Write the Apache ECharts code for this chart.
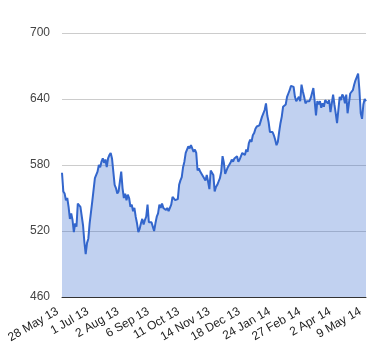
<!DOCTYPE html>
<html><head><meta charset="utf-8">
<script src="https://cdn.jsdelivr.net/npm/echarts@6/dist/echarts.min.js"></script>
<style>html,body{margin:0;padding:0;background:#fff}#c{width:380px;height:360px}</style>
</head><body><div id="c"></div>
<script>
const tickLabels = ['28 May 13','1 Jul 13','2 Aug 13','6 Sep 13','11 Oct 13','14 Nov 13','18 Dec 13','24 Jan 14','27 Feb 14','2 Apr 14','9 May 14'];
const pricesA = [573,556,554,548,550,542,531,536,530,519,527,524,545,545,542,541,525,510,499,509,513,527,528,547,548,568,568,574,580,578,583,586,582,585,578,586,589,591,586,574,562,559,554,556,557,574,559,550,554,548,553,550,542,544,538,541,533,527,519,522,527,531,526,530,533,544,528,527,528,524,520,527,533,536,544,541,545,541,542];
const pricesB = [539,541,538,539,544,551,550,548,547,549,562,566,569,578,583,591,594,597,595,598,597,592,594,591,575,577,574,572,571,568,566,571,565,558,575,574,571,556,560,562,565,568,574,588,582,572,575,578,580,582,585,583,586,585,588,583,585,588,591,592,589,594,592,600,603,601,607,609,613,615,615,616,616,624,627,630];
const pricesC = [636,625,619,610,611,610,607,603,598,601,610,618,624,633,632,635,642,645,648,652,653,651,642,638,639,642,638,653,647,642,636,638,639,638,641,642,650,638,625,638,635,638,632,636,633,639,638,636,639,628,636,644,635,627,618,630,642,639,644,642,636,644,627,628,645,645,648,653,657,660,663,648,627,622,635,640,638];
const labelEvery = 23;
const yMin = 460, yMax = 700, yStep = 60;

const values = pricesA.concat(pricesB, pricesC);
const cats = values.map((v, i) => i);
const chart = echarts.init(document.getElementById('c'), null, {renderer: 'canvas'});
chart.setOption({
  animation: false,
  grid: {left: 62, right: 14, top: 33, bottom: 63},
  xAxis: {
    type: 'category', data: cats, boundaryGap: false,
    axisLine: {lineStyle: {color: '#333', width: 1}},
    axisTick: {show: false},
    axisLabel: {
      interval: labelEvery - 1, rotate: 30, color: '#222',
      fontFamily: 'Liberation Sans, Arial', fontSize: 12, margin: 11,
      padding: [0, 5, 0, 0],
      formatter: (v, i) => (i % labelEvery === 0 && tickLabels[i / labelEvery]) ? tickLabels[i / labelEvery] : ''
    },
    splitLine: {show: false}
  },
  yAxis: {
    type: 'value', min: yMin, max: yMax, interval: yStep,
    axisLine: {show: false}, axisTick: {show: false},
    axisLabel: {color: '#444', fontFamily: 'Liberation Sans, Arial', fontSize: 12, margin: 12},
    splitLine: {lineStyle: {color: '#cccccc', width: 1}}
  },
  series: [{
    type: 'line', data: values, symbol: 'none', smooth: false,
    lineStyle: {color: '#3366cc', width: 2},
    areaStyle: {color: '#3366cc', opacity: 0.3}
  }]
});
</script></body></html>
